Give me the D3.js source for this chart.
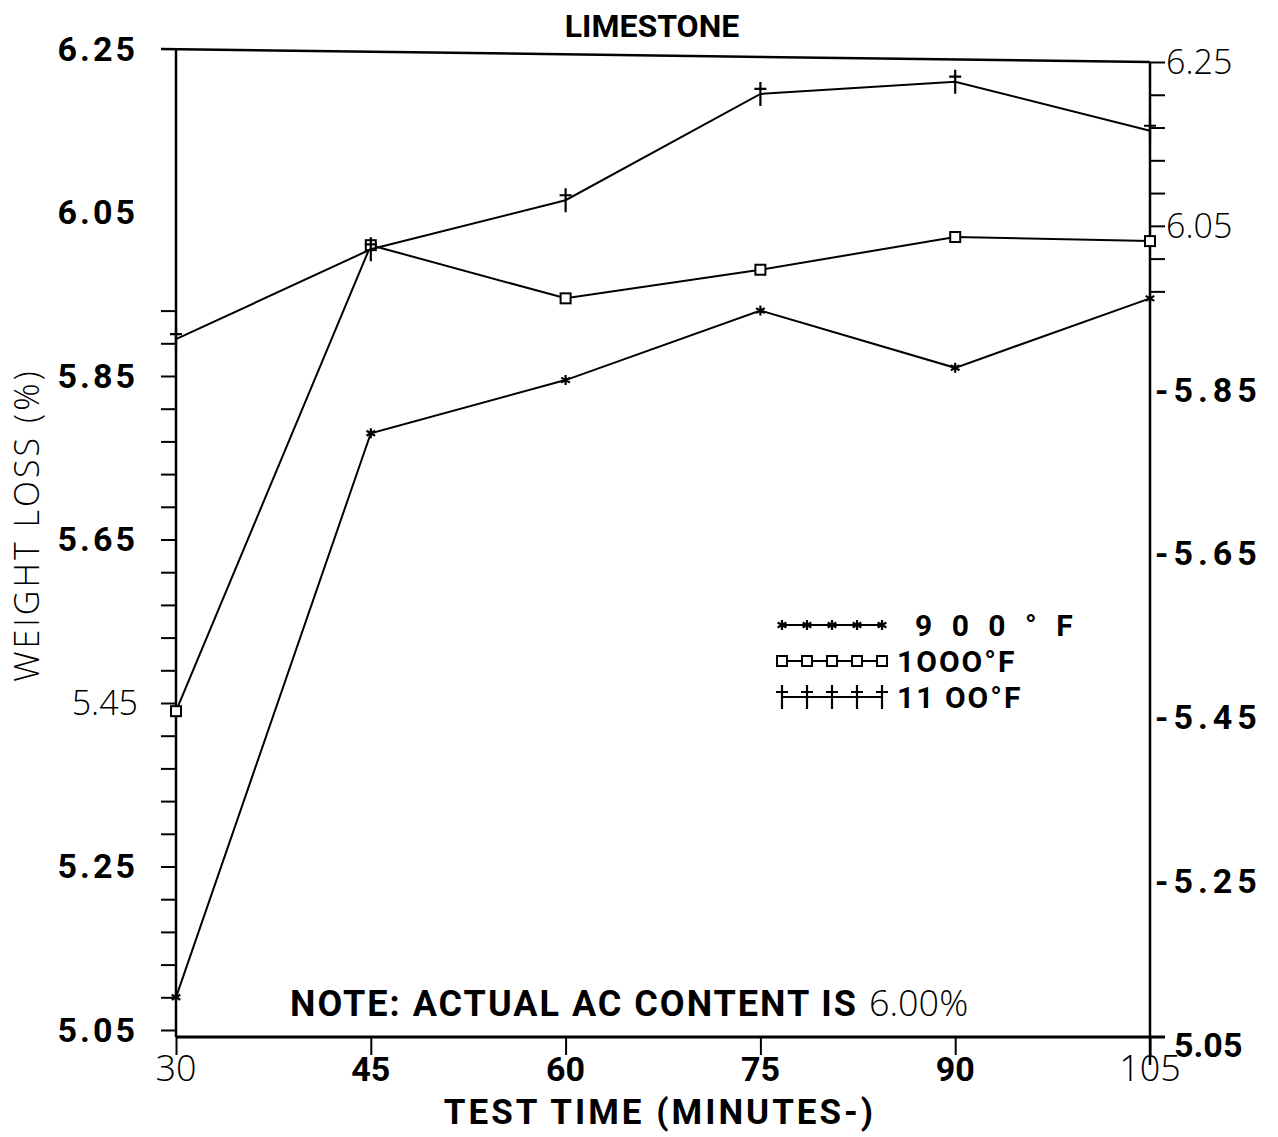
<!DOCTYPE html>
<html>
<head>
<meta charset="utf-8">
<script src="https://cdn.jsdelivr.net/npm/d3@7"></script>
<style>
  body { margin: 0; background: #fff; }
  text { fill: #000; }
  .bold { font-family: Roboto, "Liberation Sans", sans-serif; font-weight: bold; }
  .thin { font-family: "Open Sans", "Lato", "DejaVu Sans", sans-serif; font-weight: 300; }
</style>
</head>
<body>
<svg id="chart" width="1278" height="1137"></svg>
<script>
// test times (minutes)
const times = [30, 45, 60, 75, 90, 105];

// weight loss (%) per temperature
const loss900 = [5.09, 5.78, 5.845, 5.93, 5.86, 5.945];
const loss1000 = [5.44, 6.01, 5.945, 5.98, 6.02, 6.015];
const loss1100 = [5.895, 6.005, 6.065, 6.195, 6.21, 6.15];

const seriesNames = ['9 0 0 ° F', '1OOO°F', '11 OO°F'];
const yTickLabels = ['5.05', '5.25', '5.45', '5.65', '5.85', '6.05', '6.25'];
const xTickLabels = ['30', '45', '60', '75', '90', '105'];

const vis = d3.select('#chart');

const xScale = d3.scaleLinear().domain([30, 105]).range([176, 1150]),
  yScale = d3.scaleLinear().domain([5.05, 6.25]).range([1030, 49]),
  // right hand axis sits a bit lower on the original sheet
  yRight = d3.scaleLinear().domain([5.05, 6.25]).range([1045, 62]);

// minor ticks every 0.04
const minorTicks = d3.range(0, 31).map(i => +(5.05 + i * 0.04).toFixed(2));
const thinLeft = new Set(['5.45']);
const thinRight = new Set(['6.25', '6.05']);
const thinX = new Set(['30', '105']);

//Left axis, ticks only on the lower part like the original
vis
  .append('g')
  .attr('transform', 'translate(' + xScale(30) + ',0)')
  .call(d3.axisLeft(yScale).tickValues(minorTicks.filter(v => v < 5.95)).tickFormat('').tickSize(15).tickSizeOuter(0))
  .call(g => g.select('.domain').attr('stroke-width', 2.5).attr('d', 'M0,' + yScale(6.25) + 'V' + (yScale(5.05) + 7)));

//Left axis labels
vis
  .append('g')
  .selectAll('text')
  .data(yTickLabels)
  .join('text')
  .attr('class', d => (thinLeft.has(d) ? 'thin' : 'bold'))
  .attr('x', xScale(30) - 38)
  .attr('y', d => yScale(+d))
  .attr('dy', '0.35em')
  .attr('text-anchor', 'end')
  .style('font-size', '34px')
  .style('letter-spacing', d => (thinLeft.has(d) ? '0px' : '3px'))
  .text(d => d);

//Right axis
vis
  .append('g')
  .attr('transform', 'translate(' + xScale(105) + ',0)')
  .call(d3.axisRight(yRight).tickValues(minorTicks.filter(v => v > 5.95)).tickFormat('').tickSize(15).tickSizeOuter(0))
  .call(g => g.select('.domain').attr('stroke-width', 2.5).attr('d', 'M0,' + yRight(6.25) + 'V' + (yRight(5.05) + 20)));

vis
  .append('g')
  .selectAll('text')
  .data(yTickLabels)
  .join('text')
  .attr('class', d => (thinRight.has(d) ? 'thin' : 'bold'))
  .attr('x', d => xScale(105) + (thinRight.has(d) ? 16 : d === '5.05' ? 24 : 5))
  .attr('y', d => yRight(+d))
  .attr('dy', '0.35em')
  .style('font-size', '34px')
  .style('letter-spacing', d => (thinRight.has(d) || d === '5.05' ? '0px' : '5px'))
  .text(d => (thinRight.has(d) || d === '5.05' ? d : '-' + d));

//Top frame line
vis
  .append('line')
  .attr('x1', xScale(30) - 15)
  .attr('y1', yScale(6.25))
  .attr('x2', xScale(105))
  .attr('y2', yRight(6.25))
  .attr('stroke', '#000')
  .attr('stroke-width', 2.5);

//Bottom axis
const xBase = yScale(5.05) + 7;
vis
  .append('g')
  .attr('transform', 'translate(0,' + xBase + ')')
  .call(d3.axisBottom(xScale).tickValues(times).tickFormat('').tickSize(18).tickSizeOuter(0))
  .call(g => g.select('.domain').attr('stroke-width', 3).attr('d', 'M' + xScale(30) + ',0H' + (xScale(105) + 15)));

vis
  .append('g')
  .selectAll('text')
  .data(xTickLabels)
  .join('text')
  .attr('class', d => (thinX.has(d) ? 'thin' : 'bold'))
  .attr('x', d => xScale(+d))
  .attr('y', xBase + 44)
  .attr('text-anchor', 'middle')
  .style('font-size', d => (thinX.has(d) ? '36px' : '34px'))
  .text(d => d);

//Lines and markers
const lineGen = d3
  .line()
  .x((d, i) => xScale(times[i]))
  .y(d => yScale(d));

const allSeries = [loss900, loss1000, loss1100];
const markerKinds = ['star', 'square', 'dagger'];

function drawMarker(g, kind, cx, cy) {
  if (kind === 'star') {
    g.append('path')
      .attr('d', d3.symbol().type(d3.symbolAsterisk).size(70)())
      .attr('transform', 'translate(' + cx + ',' + cy + ')')
      .attr('stroke', '#000')
      .attr('stroke-width', 2.2)
      .attr('fill', 'none');
  } else if (kind === 'square') {
    g.append('rect')
      .attr('x', cx - 5)
      .attr('y', cy - 5)
      .attr('width', 10)
      .attr('height', 10)
      .attr('fill', '#fff')
      .attr('stroke', '#000')
      .attr('stroke-width', 2);
  } else {
    g.append('path')
      .attr('d', 'M' + cx + ',' + (cy - 12) + 'V' + (cy + 12) + 'M' + (cx - 6) + ',' + (cy - 5) + 'H' + (cx + 6))
      .attr('stroke', '#000')
      .attr('stroke-width', 2.2)
      .attr('fill', 'none');
  }
}

allSeries.forEach((s, k) => {
  vis
    .append('path')
    .attr('d', lineGen(s))
    .attr('stroke', '#000')
    .attr('stroke-width', 2)
    .attr('fill', 'none');
  const mg = vis.append('g');
  s.forEach((v, i) => drawMarker(mg, markerKinds[k], xScale(times[i]), yScale(v)));
});

//Legend
const legX0 = 782,
  legX1 = 882;
seriesNames.forEach((name, k) => {
  const ly = 625 + k * 36;
  const lg = vis.append('g');
  lg.append('line')
    .attr('x1', legX0)
    .attr('x2', legX1)
    .attr('y1', ly)
    .attr('y2', ly)
    .attr('stroke', '#000')
    .attr('stroke-width', 2);
  d3.range(5).forEach(j => drawMarker(lg, markerKinds[k], legX0 + j * 25, ly));
  lg.append('text')
    .attr('class', 'bold')
    .attr('x', k === 0 ? 915 : 897)
    .attr('y', ly + 11)
    .style('font-size', '30px')
    .style('letter-spacing', k === 0 ? '6px' : '2px')
    .text(name);
});

//Title
vis
  .append('text')
  .attr('class', 'bold')
  .attr('x', 652)
  .attr('y', 37)
  .attr('text-anchor', 'middle')
  .style('font-size', '32px')
  .text('LIMESTONE');

//X axis title
vis
  .append('text')
  .attr('class', 'bold')
  .attr('x', 660)
  .attr('y', 1124)
  .attr('text-anchor', 'middle')
  .style('font-size', '35px')
  .style('letter-spacing', '3px')
  .text('TEST TIME (MINUTES-)');

//Y axis title
vis
  .append('text')
  .attr('class', 'thin')
  .attr('transform', 'translate(39,525) rotate(-90)')
  .attr('text-anchor', 'middle')
  .style('font-size', '34px')
  .style('letter-spacing', '3px')
  .text('WEIGHT LOSS (%)');

//Note
const note = vis
  .append('text')
  .attr('x', 290)
  .attr('y', 1016)
  .style('font-size', '36px');
note.append('tspan').attr('class', 'bold').style('letter-spacing', '2px').text('NOTE: ACTUAL AC CONTENT IS ');
note.append('tspan').attr('class', 'thin').text('6.00%');

d3.selectAll('.tick line').attr('stroke-width', 2);
</script>
</body>
</html>
